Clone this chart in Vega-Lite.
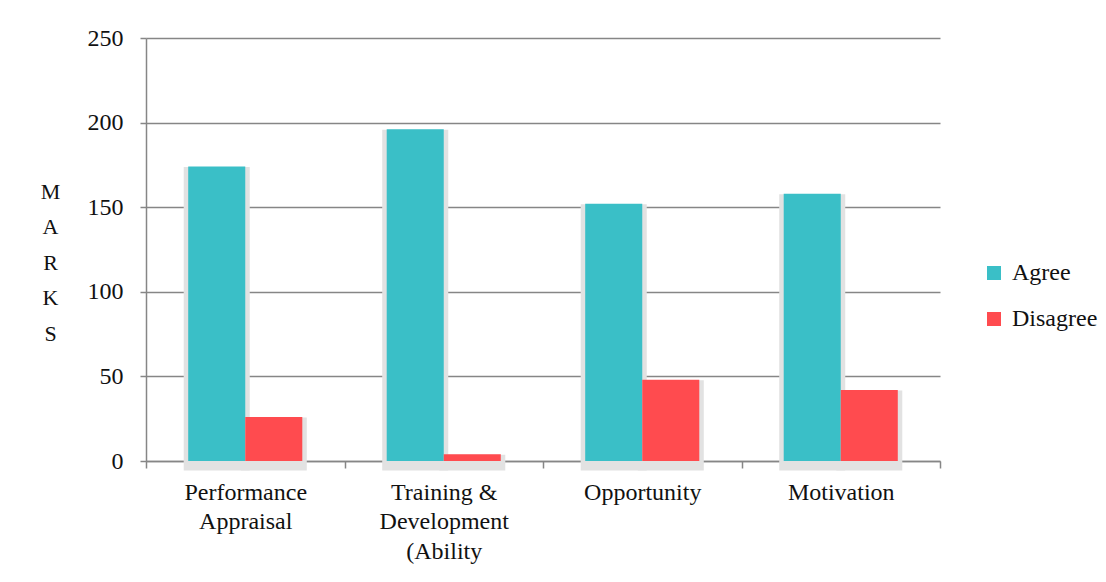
{
  "$schema": "https://vega.github.io/schema/vega-lite/v6.json",
  "width": 794,
  "height": 423,
  "autosize": "none",
  "padding": {"left": 146, "top": 38, "right": 166, "bottom": 121},
  "background": "white",
  "config": {
    "view": {"stroke": null},
    "font": "Times New Roman"
  },
  "data": {
    "values": [
      {"category": "Performance Appraisal", "response": "Agree", "value": 174},
      {"category": "Performance Appraisal", "response": "Disagree", "value": 26},
      {"category": "Training & Development (Ability", "response": "Agree", "value": 196},
      {"category": "Training & Development (Ability", "response": "Disagree", "value": 4},
      {"category": "Opportunity", "response": "Agree", "value": 152},
      {"category": "Opportunity", "response": "Disagree", "value": 48},
      {"category": "Motivation", "response": "Agree", "value": 158},
      {"category": "Motivation", "response": "Disagree", "value": 42}
    ]
  },
  "encoding": {
    "x": {
      "field": "category",
      "type": "nominal",
      "sort": ["Performance Appraisal", "Training & Development (Ability", "Opportunity", "Motivation"],
      "scale": {"paddingInner": 0, "paddingOuter": 0},
      "axis": {
        "title": null,
        "labelAngle": 0,
        "tickBand": "extent",
        "grid": false,
        "domainColor": "#868686",
        "domainWidth": 1.5,
        "tickColor": "#868686",
        "tickWidth": 1.5,
        "tickSize": 7,
        "labelFont": "Times New Roman",
        "labelFontSize": 24,
        "labelColor": "#111111",
        "labelPadding": 12,
        "labelLineHeight": 29.5,
        "labelBaseline": "top",
        "labelExpr": "datum.label == 'Performance Appraisal' ? ['Performance', 'Appraisal'] : datum.label == 'Training & Development (Ability' ? ['Training &', 'Development', '(Ability'] : datum.label"
      }
    },
    "xOffset": {
      "field": "response",
      "type": "nominal",
      "sort": ["Agree", "Disagree"],
      "scale": {"paddingInner": 0, "paddingOuter": 0.74}
    },
    "y": {
      "field": "value",
      "type": "quantitative",
      "scale": {"domain": [0, 250], "nice": false},
      "axis": {
        "values": [0, 50, 100, 150, 200, 250],
        "title": ["M", "A", "R", "K", "S"],
        "titleAngle": 0,
        "titleFont": "Times New Roman",
        "titleFontSize": 22,
        "titleFontWeight": "normal",
        "titleColor": "#111111",
        "titleLineHeight": 35.5,
        "titleAlign": "center",
        "titleBaseline": "middle",
        "titleX": -96,
        "titleY": 153,
        "gridColor": "#868686",
        "gridWidth": 1.5,
        "domainColor": "#868686",
        "domainWidth": 1.5,
        "tickColor": "#868686",
        "tickWidth": 1.5,
        "tickSize": 6,
        "labelFont": "serif",
        "labelFontSize": 24,
        "labelColor": "#111111",
        "labelPadding": 17
      }
    }
  },
  "layer": [
    {
      "mark": {"type": "bar", "color": "#e2e2e2", "stroke": "#e2e2e2", "strokeWidth": 9, "yOffset": 5, "y2Offset": -2}
    },
    {
      "mark": {"type": "bar"},
      "encoding": {
        "color": {
          "field": "response",
          "type": "nominal",
          "scale": {"domain": ["Agree", "Disagree"], "range": ["#3ABFC7", "#FF4B4F"]},
          "legend": {
            "title": null,
            "orient": "none",
            "legendX": 836,
            "legendY": 223,
            "padding": 0,
            "symbolType": "square",
            "symbolSize": 196,
            "symbolStrokeWidth": 0,
            "labelFont": "Liberation Serif",
            "labelFontSize": 24,
            "labelColor": "#111111",
            "labelOffset": 6,
            "rowPadding": 22
          }
        }
      }
    }
  ]
}
